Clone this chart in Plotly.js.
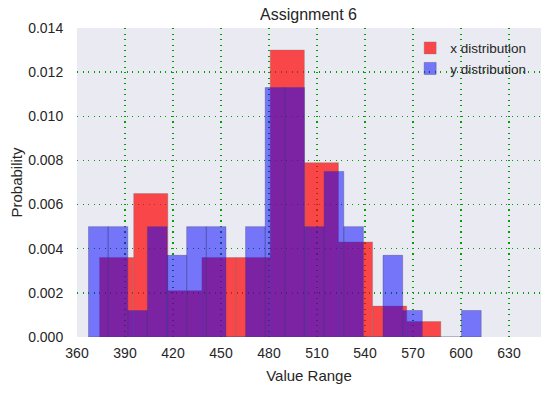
<!DOCTYPE html>
<html>
<head>
<meta charset="utf-8">
<script src="https://cdn.plot.ly/plotly-3.0.1.min.js"></script>
<style>html,body{margin:0;padding:0;background:#fff;}#chart{width:550px;height:393px;}</style>
</head>
<body>
<div id="chart"></div>
<script>
// x distribution: 10 bins, edges
const xBinStart = 374.1;
const xBinWidth = 21.33;
const xDensity = [0.0036, 0.0065, 0.0021, 0.0036, 0.0036, 0.0130, 0.0079, 0.0043, 0.0014, 0.0007];

// y distribution: 20 bins
const yBinStart = 367.2;
const yBinWidth = 12.27;
const yDensity = [0.0050, 0.0050, 0.0012, 0.0050, 0.0037, 0.0050, 0.0050, 0.0000, 0.0050, 0.0113,
                  0.0113, 0.0050, 0.0075, 0.0050, 0.0000, 0.0037, 0.0012, 0.0000, 0.0000, 0.0012];

const xTicks = [360, 390, 420, 450, 480, 510, 540, 570, 600, 630];
const yTicks = [0, 0.002, 0.004, 0.006, 0.008, 0.010, 0.012, 0.014];

function centers(start, w, n) {
  const c = [];
  for (let i = 0; i < n; i++) c.push(start + w * (i + 0.5));
  return c;
}

const traceX = {
  type: 'bar',
  name: 'x distribution',
  x: centers(xBinStart, xBinWidth, xDensity.length),
  y: xDensity,
  width: xBinWidth,
  marker: {color: 'rgba(255,0,0,0.7)', line: {color: 'rgba(120,120,120,0.35)', width: 1}},
  hoverinfo: 'skip'
};
const traceY = {
  type: 'bar',
  name: 'y distribution',
  x: centers(yBinStart, yBinWidth, yDensity.length),
  y: yDensity,
  width: yBinWidth,
  marker: {color: 'rgba(0,0,255,0.5)', line: {color: 'rgba(60,60,120,0.35)', width: 1}},
  hoverinfo: 'skip'
};

const font = {family: 'Liberation Sans, Arial, sans-serif', color: '#262626'};

const layout = {
  width: 550, height: 393,
  margin: {l: 77, r: 9, t: 28, b: 56},
  paper_bgcolor: '#ffffff',
  plot_bgcolor: '#EAEAF2',
  barmode: 'overlay',
  bargap: 0,
  font: Object.assign({size: 14}, font),
  title: {text: 'Assignment 6', font: Object.assign({size: 16}, font), x: 0.561, xanchor: 'center', y: 0.964, yanchor: 'middle'},
  xaxis: {
    range: [360, 650],
    tickvals: xTicks,
    ticktext: xTicks.map(String),
    showgrid: true, gridcolor: '#00a000', griddash: '1.3px,4.2px', gridwidth: 1.3,
    zeroline: false, showline: false,
    ticks: 'outside', ticklen: 3, tickcolor: 'rgba(0,0,0,0)',
    tickfont: Object.assign({size: 14}, font),
    title: {text: 'Value Range', font: Object.assign({size: 15}, font), standoff: 10}
  },
  yaxis: {
    range: [0, 0.014],
    tickvals: yTicks,
    ticktext: yTicks.map(v => v.toFixed(3)),
    showgrid: true, gridcolor: '#00a000', griddash: '1.3px,4.2px', gridwidth: 1.3,
    zeroline: false, showline: false,
    ticks: 'outside', ticklen: 10, tickcolor: 'rgba(0,0,0,0)',
    tickfont: Object.assign({size: 14}, font),
    title: {text: 'Probability', font: Object.assign({size: 15}, font), standoff: 1}
  },
  legend: {
    x: 0.718, y: 0.985, xanchor: 'left', yanchor: 'top',
    bgcolor: 'rgba(0,0,0,0)', borderwidth: 0,
    font: Object.assign({size: 13.5}, font),
    tracegroupgap: 0, itemwidth: 30
  },
  showlegend: true
};

Plotly.newPlot('chart', [traceX, traceY], layout, {displayModeBar: false, staticPlot: true});
</script>
</body>
</html>
